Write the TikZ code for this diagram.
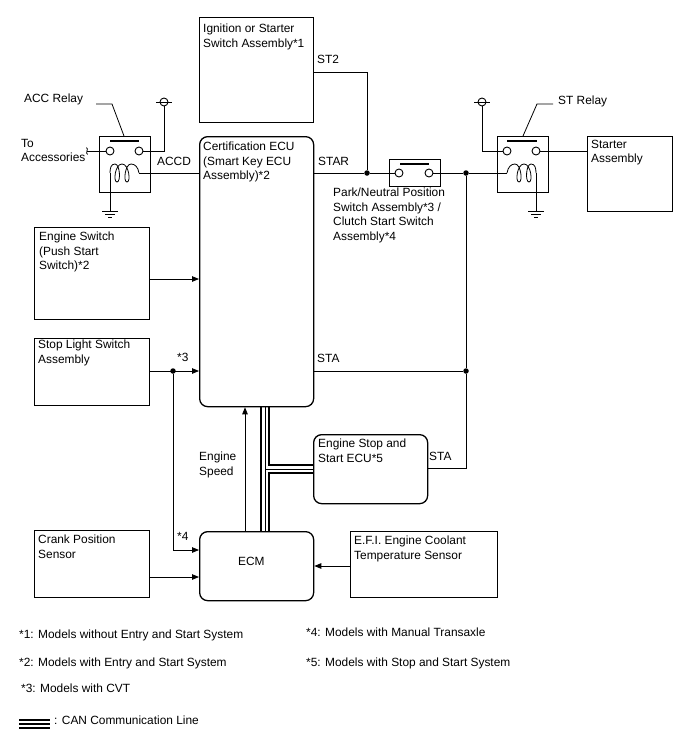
\documentclass[tikz,border=0pt]{standalone}
\usepackage{fontspec}
\setmainfont{Liberation Sans}
\usetikzlibrary{arrows.meta}
\tikzset{
  box/.style={draw, line width=1.3pt, anchor=north west, inner sep=0pt},
  rbox/.style={box, rounded corners=8pt},
  txt/.style={anchor=north west, inner sep=0pt, align=left, font=\fontsize{11.9}{14.4}\selectfont},
  wire/.style={line width=0.8pt},
  sig/.style={wire, -{Triangle[length=7pt,width=5.5pt]}},
  contact/.style={draw, circle, line width=0.9pt, minimum size=8pt, inner sep=0pt},
  junction/.style={fill, circle, minimum size=5.5pt, inner sep=0pt},
  bar/.style={line width=1.2pt},
  coil/.pic={
    \draw[wire] (0,0) .. controls (1,-6) and (4,-9) .. (8,-9)
      .. controls (14,-9) and (16,9) .. (12,9) .. controls (8,9) and (10,-9) .. (17,-9)
      .. controls (24,-9) and (26,9) .. (22,9) .. controls (18,9) and (19,-9) .. (24,-9)
      .. controls (28,-9) and (29,-5) .. (29,0);
  },
  earth/.pic={
    \draw[wire] (-8,0) -- (8,0) (-5,3) -- (5,3) (-2,6) -- (2,6);
  }
}
\begin{document}
\begin{tikzpicture}[x=1pt,y=-1pt]
  \useasboundingbox (0,0) rectangle (688,755);

  % blocks
  \node[box, minimum width=114pt, minimum height=105pt] (ignbox) at (199,17) {};
  \node[rbox, minimum width=114pt, minimum height=270pt] (certbox) at (199,136) {};
  \node[box, minimum width=115pt, minimum height=92pt] (swbox) at (34,227) {};
  \node[box, minimum width=115pt, minimum height=67pt] (stopbox) at (34,338) {};
  \node[box, minimum width=115pt, minimum height=67pt] (crankbox) at (34,530) {};
  \node[rbox, minimum width=114pt, minimum height=69pt] (ecmbox) at (199,531) {};
  \node[box, minimum width=147pt, minimum height=66pt] (efibox) at (350,531) {};
  \node[rbox, minimum width=114pt, minimum height=69pt] (stopecu) at (313,434) {};
  \node[box, minimum width=85pt, minimum height=75pt] (startbox) at (587,136) {};
  \node[box, minimum width=51pt, minimum height=56pt] (accrelay) at (99,136) {};
  \node[box, minimum width=51pt, minimum height=56pt] (strelay) at (497,136) {};
  \node[box, minimum width=51pt, minimum height=27pt] (parkbox) at (389,159) {};

  % block texts
  \node[txt] (igntext) at (203,24) {Ignition or Starter\\Switch Assembly*1};
  \node[txt] (certtext) at (203,142) {Certification ECU\\(Smart Key ECU\\Assembly)*2};
  \node[txt] (swtext) at (39,232) {Engine Switch\\(Push Start\\Switch)*2};
  \node[txt] (stoptext) at (38,340) {Stop Light Switch\\Assembly};
  \node[txt] (cranktext) at (38,535) {Crank Position\\Sensor};
  \node[txt] (ecmtext) at (238,557) {ECM};
  \node[txt] (efitext) at (354,536) {E.F.I. Engine Coolant\\Temperature Sensor};
  \node[txt] (ecutext) at (318,439) {Engine Stop and\\Start ECU*5};
  \node[txt] (starttext) at (591,140) {Starter\\Assembly};

  % signal names
  \node[txt] (st2) at (317,55) {ST2};
  \node[txt] (accd) at (157,157) {ACCD};
  \node[txt] (star) at (318,157) {STAR};
  \node[txt] (sta1) at (317,354) {STA};
  \node[txt] (sta2) at (429,452) {STA};
  \node[txt] (speed) at (199,452) {Engine\\Speed};
  \node[txt] (mark3) at (177,353) {*3};
  \node[txt] (mark4) at (177,532) {*4};
  \node[txt] (acctext) at (24,94) {ACC Relay};
  \node[txt] (sttext) at (558,96) {ST Relay};
  \node[txt] (totext) at (21,139) {To\\Accessories};
  \node[txt] (parktext) at (333,188) {Park/Neutral Position\\Switch Assembly*3 /\\Clutch Start Switch\\Assembly*4};

  % contacts
  \foreach \name/\xa/\ya in {acca/110/151, accb/139/151, sta/507/151, stb/536/151, parka/399/173, parkb/429/173}
    \node[contact] (\name) at (\xa,\ya) {};
  \foreach \xa/\xb/\ya in {110/139/141, 507/537/141, 400/429/164}
    \draw[bar] (\xa,\ya) -- (\xb,\ya);

  % relay coils and earths
  \pic[xscale=-1] at (139,173) {coil};
  \pic at (507,173) {coil};
  \pic at (110,211) {earth};
  \pic at (536,211) {earth};
  \draw[wire] (110,173) -- (110,211);
  \draw[wire] (536,173) -- (536,211);

  % supply terminals
  \node[contact] (accpow) at (164,102) {};
  \node[contact] (stpow) at (482,102) {};
  \draw[wire] (156,102) -- (172,102);
  \draw[wire] (474,102) -- (490,102);
  \draw[wire] (accpow) |- (accb);
  \draw[wire] (stpow) |- (sta);

  % relay leaders
  \coordinate (accleft) at (96,104);
  \coordinate (accknee) at (112,104);
  \coordinate (stright) at (553,104);
  \coordinate (stknee) at (537,104);
  \draw[wire] (accleft) -- (accknee) -- (124,136);
  \draw[wire] (stright) -- (stknee) -- (523,136);

  % accessory end
  \coordinate (accfree) at (87,151);
  \draw[wire] (acca) -- (accfree);
  \draw[wire] (86.5,147.5) .. controls (89,149) and (85,153) .. (87.5,154.5);

  % wiring
  \coordinate (acccoil) at (139,173);
  \coordinate (stcoil) at (507,173);
  \node[junction] (stardot) at (367,173) {};
  \node[junction] (parkdot) at (466,173) {};
  \node[junction] (stadot) at (466,371) {};
  \node[junction] (stopdot) at (173,371) {};
  \draw[wire] (certbox.west |- acccoil) -- (acccoil);
  \draw[wire] (certbox.east |- stardot) -- (stardot) -- (parka);
  \draw[wire] (parkb) -- (parkdot) -- (stcoil);
  \draw[wire] (ignbox.east |- 0,72) -| (stardot);
  \draw[wire] (stb) -- (startbox.west |- stb);
  \draw[wire] (parkdot) -- (stadot);
  \draw[wire] (certbox.east |- stadot) -- (stadot);
  \draw[wire] (stadot) |- (stopecu.east |- 0,468);

  % signals into the ECUs
  \draw[sig] (swbox.east |- 0,279) -- (certbox.west |- 0,279);
  \draw[sig] (stopbox.east |- stopdot) -- (certbox.west |- stopdot);
  \draw[sig] (stopdot) |- (ecmbox.west |- 0,550);
  \draw[sig] (crankbox.east |- 0,577) -- (ecmbox.west |- 0,577);
  \draw[sig] (efibox.west |- 0,566) -- (ecmbox.east |- 0,566);
  \draw[sig] (ecmbox.north -| 245,0) -- (certbox.south -| 245,0);

  % CAN bus
  \draw[line width=2pt] (261,406) -- (261,531);
  \draw[line width=0.8pt] (265,406) -- (265,531);
  \draw[line width=0.8pt] (265,469) -- (313,469);
  \draw[line width=2pt] (269,406) -- (269,465) -- (313,465);
  \draw[line width=2pt] (269,531) -- (269,473) -- (313,473);

  % notes
  \node[txt] (note1) at (19,630) {*1: Models without Entry and Start System};
  \node[txt] (note2) at (19,658) {*2: Models with Entry and Start System};
  \node[txt] (note3) at (21,684) {*3: Models with CVT};
  \node[txt] (note4) at (306,628) {*4: Models with Manual Transaxle};
  \node[txt] (note5) at (306,658) {*5: Models with Stop and Start System};
  \node[txt] (cantext) at (54,716) {: CAN Communication Line};
  \draw[line width=2.2pt] (19,720) -- (50,720);
  \draw[line width=1.2pt] (19,724) -- (50,724);
  \draw[line width=2.2pt] (19,728) -- (50,728);
\end{tikzpicture}
\end{document}
